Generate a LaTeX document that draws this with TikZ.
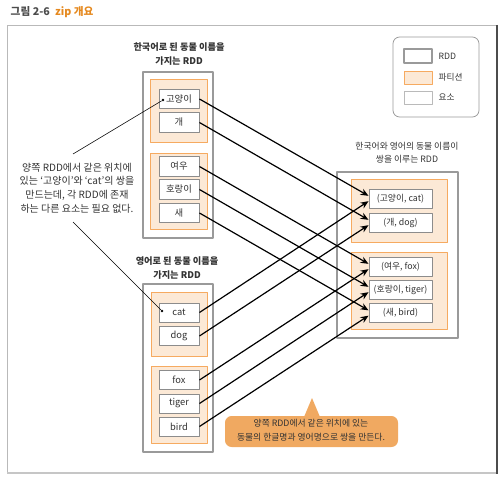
\documentclass[tikz,border=0pt]{standalone}
\usepackage{fontspec}
\setmainfont{Noto Sans CJK KR}
\usetikzlibrary{arrows.meta}
\definecolor{partfill}{HTML}{FCE9D6}
\definecolor{partline}{HTML}{F6AA60}
\definecolor{rddline}{HTML}{9A9A9A}
\definecolor{elemline}{HTML}{8C8C8C}
\definecolor{calloutfill}{HTML}{F0A961}
\definecolor{titleorange}{HTML}{E5891F}
\definecolor{txtgray}{HTML}{333333}
\tikzset{
  rddbox/.style={draw=rddline, line width=1pt, fill=white},
  partbox/.style={draw=partline, line width=0.6pt, fill=partfill},
  elembox/.style={draw=elemline, line width=0.7pt, fill=white, minimum width=30pt, minimum height=14.3pt, inner sep=0pt, text=txtgray, font=\fontsize{7}{8}\selectfont},
  pairbox/.style={elembox, minimum width=47.3pt, font=\fontsize{6.6}{8}\selectfont},
  rddtitle/.style={align=center, font=\fontsize{6.9}{10.5}\selectfont\bfseries},
  zipline/.style={->, line width=0.9pt},
  noteline/.style={line width=0.4pt},
  notedot/.style={circle, fill=black, inner sep=0pt, minimum size=2pt}
}
\begin{document}
\begin{tikzpicture}[x=0.75pt, y=-0.75pt, >={Stealth[length=6pt,width=5pt]}, line join=round, font=\fontsize{6.5}{8}\selectfont, text=txtgray]
		\useasboundingbox (0,0) rectangle (503,481);
		% Figure title and frame
		\node[anchor=west, font=\fontsize{8}{9}\selectfont\bfseries] (figtitle) at (6,12) {\textcolor{black!70}{그림 2-6}\hspace{4pt}\textcolor{titleorange}{zip 개요}};
		\draw[gray!55, line width=0.6pt] (497,25) -- (7,25) -- (7,473);
		\draw[gray!45, line width=1.2pt] (7,473) -- (497,473);
		\draw[black!70, line width=1.4pt] (497,25) -- (497,474);
		% Legend
		\draw[rddline, line width=0.6pt, rounded corners=5pt] (393,37) rectangle (479,117);
		\draw[rddbox] (404,49) rectangle (432,63);
		\draw[partbox] (404,71) rectangle (432,84);
		\draw[elemline!60, line width=0.6pt] (404,91) rectangle (432,104);
		\node[anchor=west] (legrdd) at (434,56) {RDD};
		\node[anchor=west] (legpart) at (434,77.5) {파티션};
		\node[anchor=west] (legelem) at (434,97.5) {요소};
		% Korean RDD
		\node[rddtitle] (kotitle) at (179,54.5) {한국어로 된 동물 이름을\\가지는 RDD};
		\draw[rddbox] (143,72) rectangle (213,238);
		\draw[partbox] (150,79) rectangle (207,142);
		\draw[partbox] (150,153) rectangle (207,229);
		\node[elembox] (ko1) at (179,99) {고양이};
		\node[elembox] (ko2) at (179,122.5) {개};
		\node[elembox] (ko3) at (179,166.5) {여우};
		\node[elembox] (ko4) at (179,189.5) {호랑이};
		\node[elembox] (ko5) at (179,213) {새};
		% English RDD
		\node[rddtitle] (entitle) at (177,268) {영어로 된 동물 이름을\\가지는 RDD};
		\draw[rddbox] (143,284) rectangle (213,452);
		\draw[partbox] (151,292) rectangle (207,356);
		\draw[partbox] (151,366) rectangle (207,443);
		\node[elembox] (en1) at (179,312.5) {cat};
		\node[elembox] (en2) at (179,336) {dog};
		\node[elembox] (en3) at (179,380) {fox};
		\node[elembox] (en4) at (179,403.5) {tiger};
		\node[elembox] (en5) at (179,426.5) {bird};
		% Zipped RDD
		\node[align=center, font=\fontsize{6.6}{10}\selectfont] (ziptitle) at (407,152.5) {한국어와 영어의 동물 이름이\\쌍을 이루는 RDD};
		\draw[rddbox] (337,172) rectangle (458,338);
		\draw[partbox] (351,179) rectangle (447,242);
		\draw[partbox] (351,252) rectangle (447,329);
		\node[pairbox] (pr1) at (400.5,198.5) {(고양이, cat)};
		\node[pairbox] (pr2) at (400.5,222.5) {(개, dog)};
		\node[pairbox] (pr3) at (400.5,266.5) {(여우, fox)};
		\node[pairbox] (pr4) at (400.5,289.5) {(호랑이, tiger)};
		\node[pairbox] (pr5) at (400.5,313) {(새, bird)};
		% Zip arrows
		\foreach \i in {1,...,5} {
			\draw[zipline] (ko\i.east) -- ([yshift=2pt]pr\i.west);
			\draw[zipline] (en\i.east) -- ([yshift=-2pt]pr\i.west);
		}
		% Side note
		\node[align=center, font=\fontsize{7.5}{10.3}\selectfont] (sidenote) at (77,188) {양쪽 RDD에서 같은 위치에\\있는 ‘고양이’와 ‘cat’의 쌍을\\만드는데, 각 RDD에 존재\\하는 다른 요소는 필요 없다.};
		\coordinate (noteup) at (73,154);
		\coordinate (notedown) at (73,222);
		\node[notedot] (dot1) at (163,100) {};
		\node[notedot] (dot2) at (162,311) {};
		\draw[noteline] (noteup) -- (dot1);
		\draw[noteline] (notedown) -- (dot2);
		% Callout
		\fill[calloutfill, rounded corners=5pt] (225,416) rectangle (398,447);
		\fill[calloutfill] (304,417) -- (312,398) -- (320,417) -- cycle;
		\node[align=center, font=\fontsize{6.6}{10.5}\selectfont] (callout) at (311,430.5) {양쪽 RDD에서 같은 위치에 있는\\동물의 한글명과 영어명으로 쌍을 만든다.};
	\end{tikzpicture}
\end{document}
